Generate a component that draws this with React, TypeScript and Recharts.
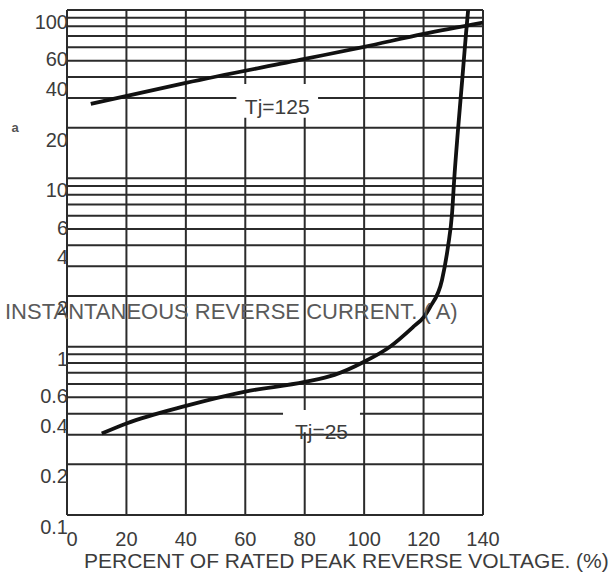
import React from 'react';
import { LineChart, Line, XAxis, YAxis, CartesianGrid, ReferenceArea } from 'recharts';

// percent of rated peak reverse voltage
const xTicks = [0, 20, 40, 60, 80, 100, 120, 140];

// log grid lines, 1..9 per decade
const yGrid = [
  0.1, 0.2, 0.3, 0.4, 0.5, 0.6, 0.7, 0.8, 0.9,
  1, 2, 3, 4, 5, 6, 7, 8, 9,
  10, 20, 30, 40, 50, 60, 70, 80, 90, 100,
];
const yLabels = [0.1, 0.2, 0.4, 0.6, 1, 2, 4, 6, 10, 20, 40, 60, 100];

// Tj = 125
const hotX = [8, 40, 80, 100, 120, 140];
const hotY = [27.7, 36.9, 51.2, 60.4, 72.1, 84.2];

// Tj = 25
const coldX = [11.7, 20, 40, 60, 80, 90, 100, 108.7, 116.5, 120.2, 122.2, 126.2, 128.2, 129.6, 130.3, 131.5, 133, 134.3, 135];
const coldY = [0.305, 0.35, 0.445, 0.541, 0.617, 0.68, 0.814, 1.0, 1.31, 1.51, 1.72, 2.49, 3.91, 6.23, 9.8, 18.6, 38.4, 73, 100];

const hotData = hotX.map((x, i) => ({ x, y: hotY[i] }));
const coldData = coldX.map((x, i) => ({ x, y: coldY[i] }));

const FONT = '"Liberation Sans", Arial, sans-serif';
const TEXT = '#3c3c3c';

const XTick = (props: any) => {
  const { x, y, payload } = props;
  return (
    <text x={x + (payload.value === 0 ? 5 : 0)} y={y + 24} textAnchor="middle" dominantBaseline="central"
      fontFamily={FONT} fontSize={20} fill={TEXT}>
      {payload.value}
    </text>
  );
};

const YTick = (props: any) => {
  const { x, y, payload } = props;
  if (!yLabels.includes(payload.value)) return <g />;
  return (
    <text x={x + 1} y={y + 12} textAnchor="end" dominantBaseline="central"
      fontFamily={FONT} fontSize={20} fill={TEXT}>
      {payload.value}
    </text>
  );
};

const YLabel = (props: any) => {
  const vb = props.viewBox || { x: 0, y: 10, width: 67, height: 505 };
  return (
    <g>
      <text x={vb.x + 15} y={vb.y + 117} fontFamily={FONT} fontSize={13} fontWeight="bold" fill="#555"
        textAnchor="middle" dominantBaseline="central">a</text>
      <text x={vb.x + 5} y={vb.y + 301} fontFamily={FONT} fontSize={22} fill="#5a5a5a"
        dominantBaseline="central">INSTANTANEOUS REVERSE CURRENT. ( A)</text>
    </g>
  );
};

const XLabel = (props: any) => {
  const vb = props.viewBox || { x: 67, y: 515, width: 416, height: 68 };
  return (
    <text x={vb.x + 17} y={vb.y + 45} fontFamily={FONT} fontSize={21} fill={TEXT}
      dominantBaseline="central">PERCENT OF RATED PEAK REVERSE VOLTAGE. (%)</text>
  );
};

const BoxText = ({ viewBox, text, dy }: any) => {
  if (!viewBox) return null;
  return (
    <text x={viewBox.x + viewBox.width / 2} y={viewBox.y + viewBox.height / 2 + dy}
      textAnchor="middle" dominantBaseline="central" fontFamily={FONT} fontSize={21} fill={TEXT}>
      {text}
    </text>
  );
};

export default function App() {
  return (
    <div style={{ position: 'absolute', left: 0, top: 0, width: 616, height: 583, background: '#fff' }}>
      <LineChart width={616} height={583} margin={{ top: 10, right: 133, bottom: 0, left: 0 }}>
        <CartesianGrid stroke="#2b2b2b" strokeWidth={2} />
        <XAxis type="number" dataKey="x" domain={[0, 140]} ticks={xTicks} interval={0}
          allowDataOverflow height={68} tickSize={0} tickMargin={0}
          axisLine={{ stroke: '#2b2b2b', strokeWidth: 2 }} tick={<XTick />}
          label={<XLabel />} />
        <YAxis type="number" scale="log" domain={[0.1, 100]} ticks={yGrid} interval={0}
          allowDataOverflow width={67} tickSize={0} tickMargin={0}
          axisLine={{ stroke: '#2b2b2b', strokeWidth: 2 }} tick={<YTick />}
          label={<YLabel />} />
        <ReferenceArea x1={57} x2={84.5} y1={22.9} y2={36.4} fill="#fff" fillOpacity={1}
          stroke="none" ifOverflow="visible" label={<BoxText text="Tj=125" dy={6} />} />
        <ReferenceArea x1={72.7} x2={98.6} y1={0.31} y2={0.42} fill="#fff" fillOpacity={1}
          stroke="none" ifOverflow="visible" label={<BoxText text="Tj=25" dy={10} />} />
        <Line data={hotData} dataKey="y" type="monotone" stroke="#111" strokeWidth={3.8}
          dot={false} isAnimationActive={false} />
        <Line data={coldData} dataKey="y" type="monotone" stroke="#111" strokeWidth={3.8}
          dot={false} isAnimationActive={false} />
      </LineChart>
    </div>
  );
}
